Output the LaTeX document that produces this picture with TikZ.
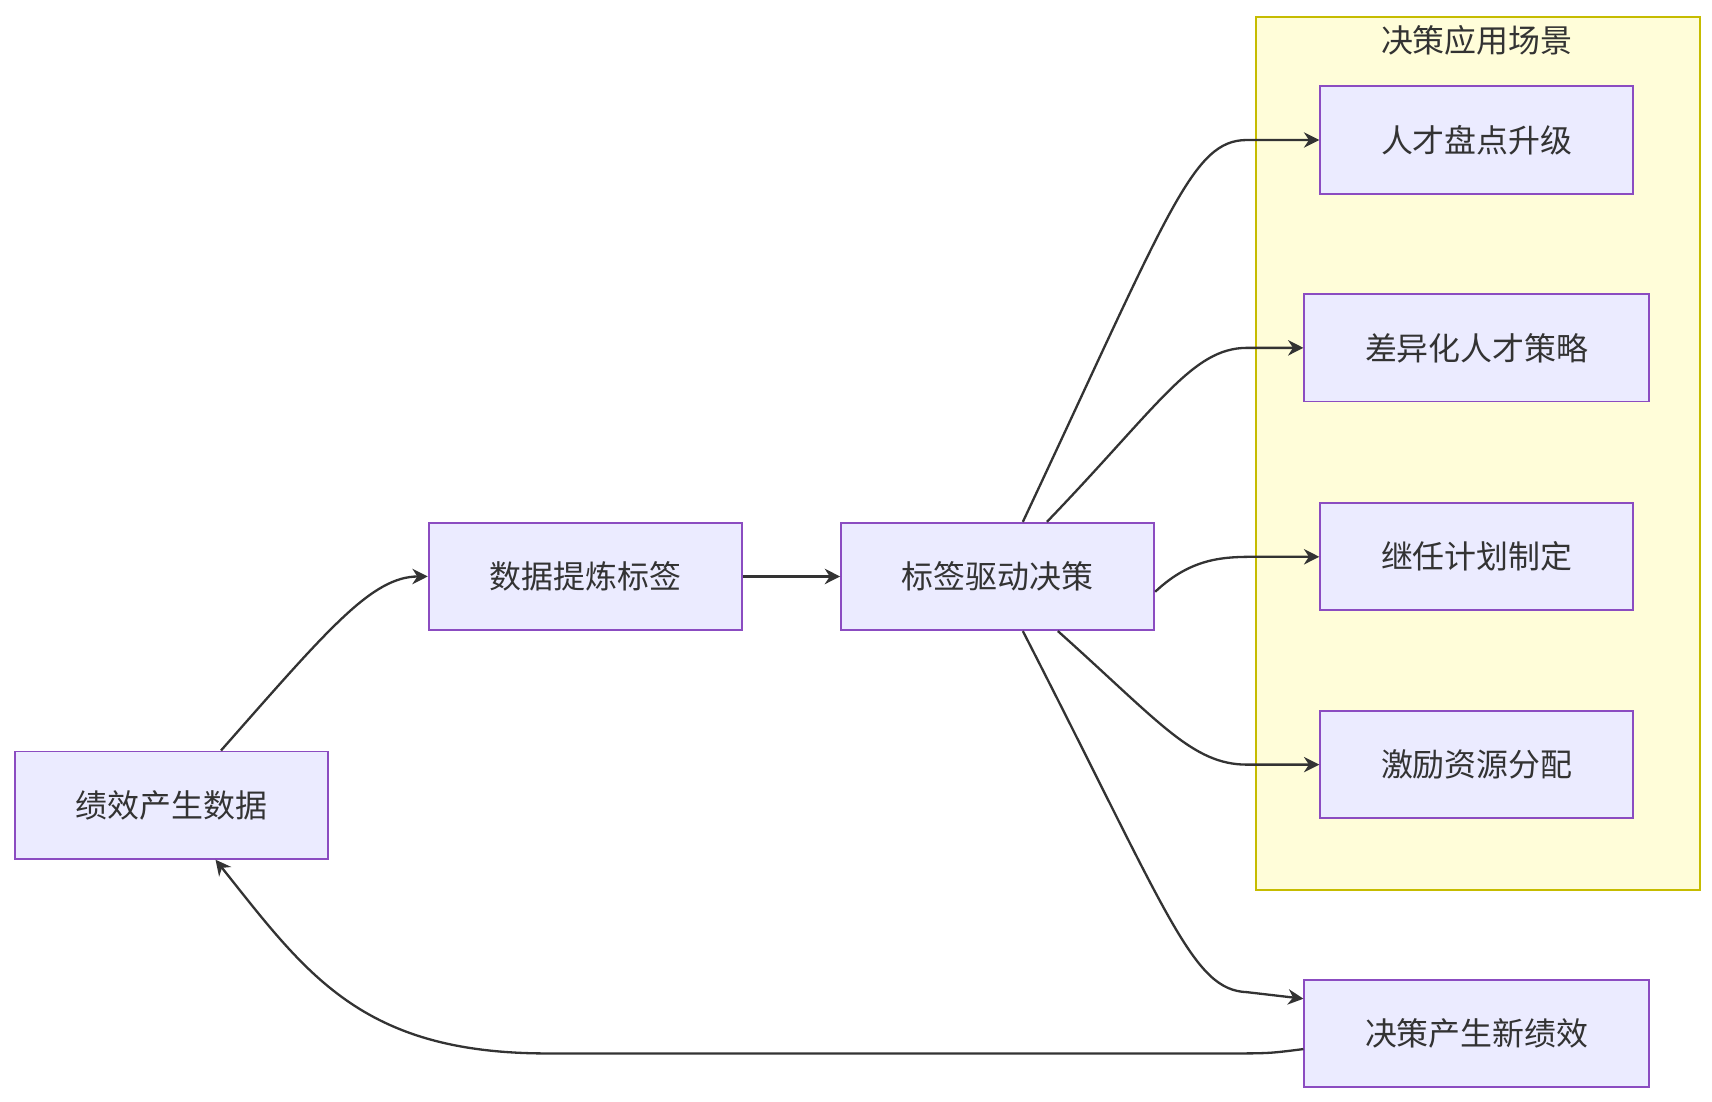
\documentclass[tikz,border=0pt]{standalone}
\usepackage{fontspec}
\setmainfont{Noto Sans CJK SC}
\usetikzlibrary{arrows.meta}
\begin{document}
\begin{tikzpicture}[x=0.01cm,y=-0.01cm,
 box/.style={draw=violet!70!blue!70, fill=blue!8, line width=0.5pt, minimum height=0.98cm, inner sep=0pt, font=\fontsize{8.3}{10}\selectfont, text=black!80},
 arr/.style={draw=black!80, line width=0.6pt, -{Stealth[length=4pt,width=4pt]}}]
\useasboundingbox (0,0) rectangle (1565,1007);
\node[draw=yellow!50!olive, fill=yellow!15, line width=0.5pt, minimum width=4.06cm, minimum height=7.97cm, anchor=north west] (cl) at (1147,15) {};
\node[font=\fontsize{8.3}{10}\selectfont, text=black!80] (clt) at (1350,37) {决策应用场景};
\node[box, minimum width=2.86cm] (a) at (157,736) {绩效产生数据};
\node[box, minimum width=2.86cm] (b) at (535,527) {数据提炼标签};
\node[box, minimum width=2.86cm] (c) at (912,527) {标签驱动决策};
\node[box, minimum width=2.86cm] (d1) at (1350,128) {人才盘点升级};
\node[box, minimum width=3.15cm] (d2) at (1350,318) {差异化人才策略};
\node[box, minimum width=2.86cm] (d3) at (1350,509) {继任计划制定};
\node[box, minimum width=2.86cm] (d4) at (1350,699) {激励资源分配};
\node[box, minimum width=3.15cm] (e) at (1350,945) {决策产生新绩效};
\draw[arr] ([xshift=0.45cm]a.north) .. controls (300,575) and (340,527) .. (b.west);
\draw[arr] (b.east) -- (c.west);
\draw[arr] ([xshift=0.23cm]c.north) .. controls (1070,190) and (1090,128) .. (1140,128) -- (d1.west);
\draw[arr] ([xshift=0.45cm]c.north) .. controls (1060,370) and (1090,318) .. (1140,318) -- (d2.west);
\draw[arr] ([yshift=-0.14cm]c.east) .. controls (1090,509) and (1120,509) .. (1150,509) -- (d3.west);
\draw[arr] ([xshift=0.55cm]c.south) .. controls (1060,660) and (1090,699) .. (1140,699) -- (d4.west);
\draw[arr] ([xshift=0.23cm]c.south) .. controls (1070,840) and (1090,905) .. (1140,907) -- ([yshift=0.32cm]e.west);
\draw[arr] ([yshift=-0.14cm]e.west) .. controls (1160,963) .. (1120,963) -- (500,963) .. controls (330,963) and (280,890) .. ([xshift=0.4cm]a.south);
\end{tikzpicture}
\end{document}
